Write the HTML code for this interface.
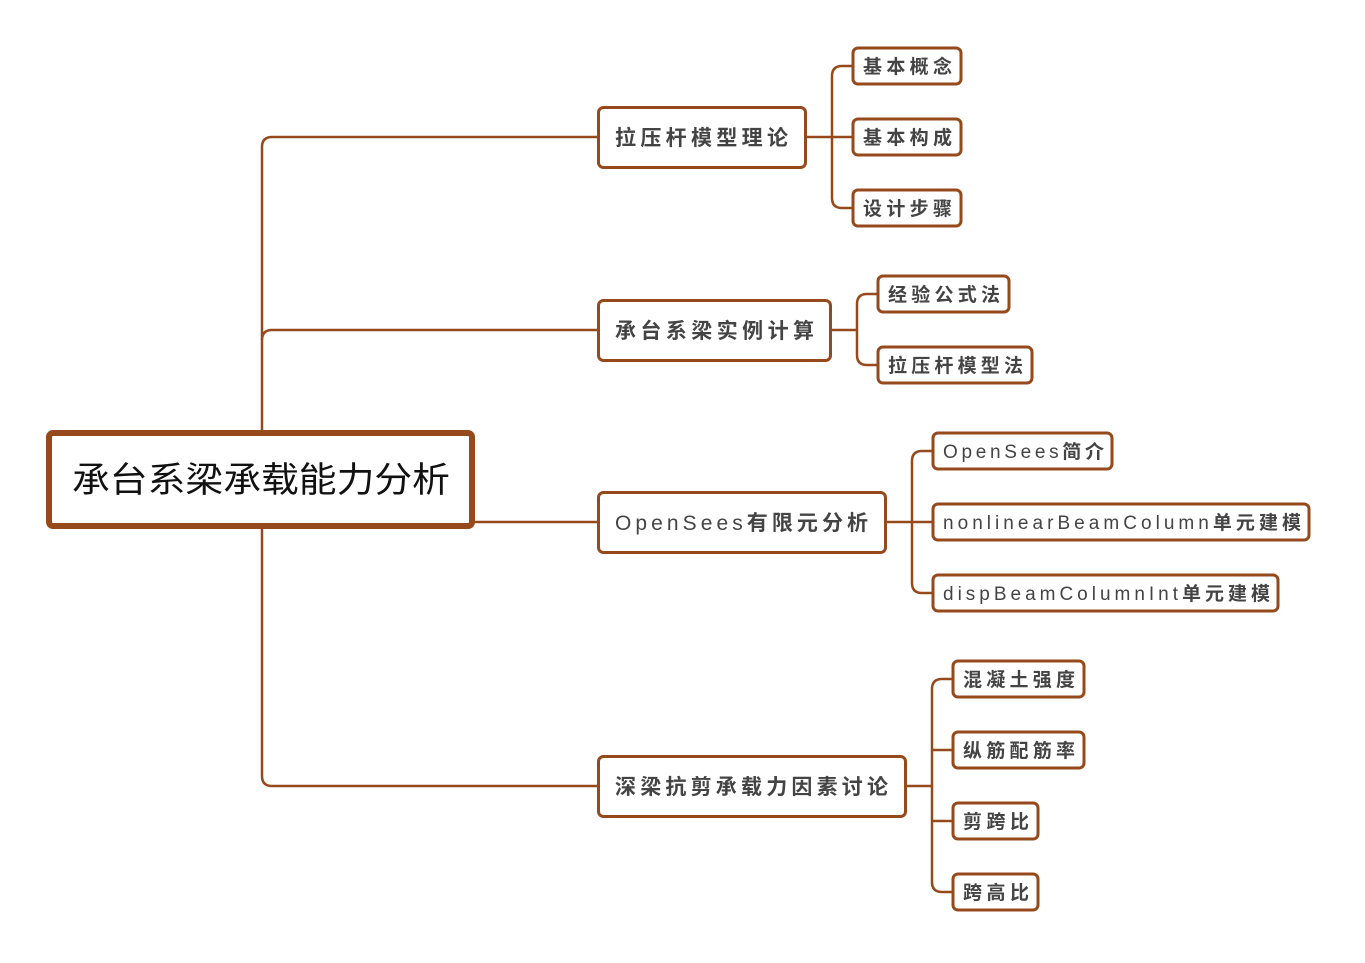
<!DOCTYPE html>
<html><head><meta charset="utf-8"><style>
html,body{margin:0;padding:0;background:#fff;}
svg{display:block;}
text{font-family:"Liberation Sans","Noto Sans CJK SC",sans-serif;}
.l{fill:#444;font-size:19px;font-weight:bold;}
.m{fill:#444;font-size:21px;font-weight:bold;}
.n{font-weight:normal;}
</style></head><body>
<svg width="1365" height="963" viewBox="0 0 1365 963" xmlns="http://www.w3.org/2000/svg">
<g fill="none" stroke="#964a1c" stroke-width="2.5">
<path d="M597 137 H272 Q262 137 262 147 V776 Q262 786 272 786 H597"/>
<path d="M262 340 Q262 330 272 330 H597"/>
<path d="M474 522 H597"/>
<path d="M807 137 H852 M852 66 H842 Q832 66 832 76 V198 Q832 208 842 208 H852"/>
<path d="M832 330 H857 M877 294 H867 Q857 294 857 304 V355 Q857 365 867 365 H877"/>
<path d="M887 522 H932 M932 451 H922 Q912 451 912 461 V583 Q912 593 922 593 H932"/>
<path d="M907 786 H932 M952 679 H942 Q932 679 932 689 V882 Q932 892 942 892 H952 M932 750 H952 M932 821 H952"/>
</g>
<g fill="#fff" stroke="#964a1c">
<rect x="49" y="433" width="423" height="93" rx="4" stroke-width="6"/>
<rect x="598.5" y="107.5" width="207" height="60" rx="5" stroke-width="3"/>
<rect x="598.5" y="300.5" width="232" height="60" rx="5" stroke-width="3"/>
<rect x="598.5" y="492.5" width="287" height="60" rx="5" stroke-width="3"/>
<rect x="598.5" y="756.5" width="307" height="60" rx="5" stroke-width="3"/>
<g stroke-width="3">
<rect x="853" y="48" width="108" height="36" rx="5"/>
<rect x="853" y="119" width="108" height="36" rx="5"/>
<rect x="853" y="190" width="108" height="36" rx="5"/>
<rect x="878" y="276" width="131" height="36" rx="5"/>
<rect x="878" y="347" width="154" height="36" rx="5"/>
<rect x="933" y="433" width="179" height="36" rx="5"/>
<rect x="933" y="504" width="376" height="36" rx="5"/>
<rect x="933" y="575" width="345" height="36" rx="5"/>
<rect x="953" y="661" width="131" height="36" rx="5"/>
<rect x="953" y="732" width="131" height="36" rx="5"/>
<rect x="953" y="803" width="85" height="36" rx="5"/>
<rect x="953" y="874" width="85" height="36" rx="5"/>
</g>
</g>
<text x="72" y="492" font-size="35" fill="#111" textLength="378" lengthAdjust="spacingAndGlyphs">承台系梁承载能力分析</text>
<text class="m" x="615" y="145" textLength="173">拉压杆模型理论</text>
<text class="m" x="615" y="338" textLength="199">承台系梁实例计算</text>
<text class="m" x="615" y="530" textLength="253"><tspan class="n">OpenSees</tspan>有限元分析</text>
<text class="m" x="615" y="794" textLength="273">深梁抗剪承载力因素讨论</text>
<text class="l" x="863" y="73" textLength="89">基本概念</text>
<text class="l" x="863" y="144" textLength="89">基本构成</text>
<text class="l" x="863" y="215" textLength="89">设计步骤</text>
<text class="l" x="888" y="301" textLength="112">经验公式法</text>
<text class="l" x="888" y="372" textLength="135">拉压杆模型法</text>
<text class="l" x="943" y="458" textLength="161"><tspan class="n">OpenSees</tspan>简介</text>
<text class="l" x="943" y="529" textLength="358"><tspan class="n">nonlinearBeamColumn</tspan>单元建模</text>
<text class="l" x="943" y="600" textLength="327"><tspan class="n">dispBeamColumnInt</tspan>单元建模</text>
<text class="l" x="963" y="686" textLength="112">混凝土强度</text>
<text class="l" x="963" y="757" textLength="112">纵筋配筋率</text>
<text class="l" x="963" y="828" textLength="66">剪跨比</text>
<text class="l" x="963" y="899" textLength="66">跨高比</text>
</svg>
</body></html>
